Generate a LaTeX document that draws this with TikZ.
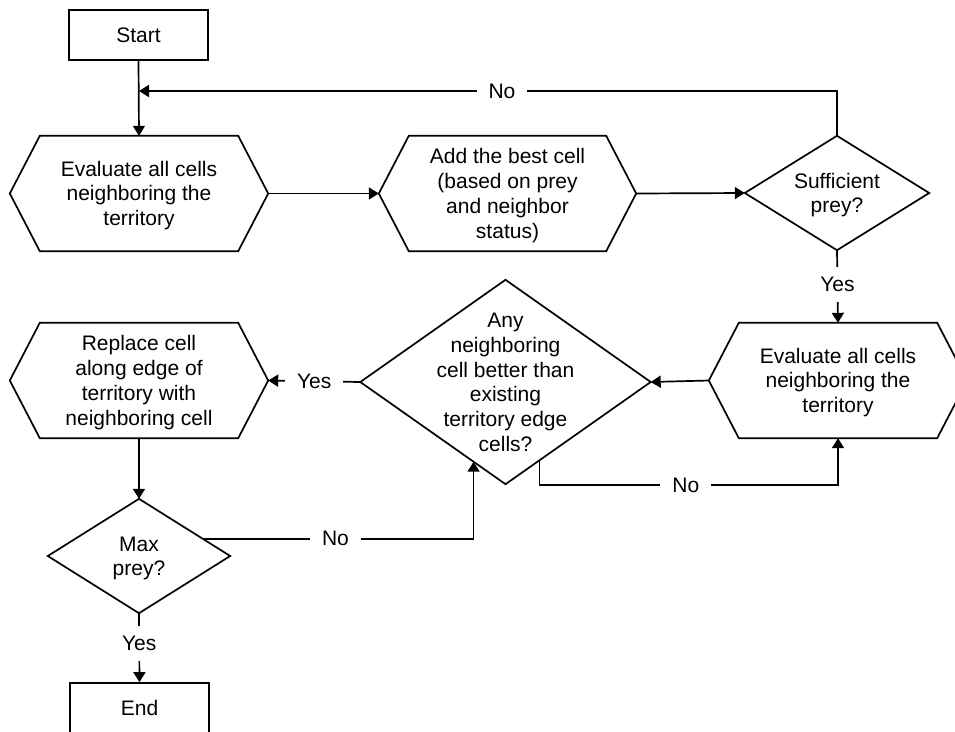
\documentclass[tikz,border=0pt]{standalone}
\usepackage{fontspec}
\setmainfont{Liberation Sans}
\usetikzlibrary{arrows.meta,calc}
\tikzset{
  line/.style={line width=1.7pt, draw=black},
  arr/.style={line, -{Triangle[length=10pt,width=12pt]}},
  txt/.style={font=\fontsize{21}{24.8}\selectfont, align=center, inner sep=0pt},
  boxnode/.style={txt, draw, line width=1.7pt, minimum width=139pt, minimum height=50pt},
  hexnode/.style={txt, minimum width=258pt, minimum height=115pt},
  dianode/.style={txt},
  lbl/.style={font=\fontsize{21}{24.8}\selectfont, fill=white, inner xsep=12pt, inner ysep=10pt},
}
\newcommand\ctext[1]{\raisebox{-2.5pt}[\height][\depth]{\begin{tabular}{@{}c@{}}#1\end{tabular}}}
\newcommand\hexoutline[1]{\draw[line, line join=miter] (#1.west) -- ([xshift=30pt]#1.north west) -- ([xshift=-30pt]#1.north east) -- (#1.east) -- ([xshift=-30pt]#1.south east) -- ([xshift=30pt]#1.south west) -- cycle;}
\newcommand\diaoutline[1]{\draw[line, line join=miter] (#1.north) -- (#1.east) -- (#1.south) -- (#1.west) -- cycle;}
\begin{document}
\begin{tikzpicture}[x=1pt,y=-1pt]
\useasboundingbox[fill=white] (0,0) rectangle (955,731);
% nodes
\node[boxnode] (start) at (138.5,35) {Start};
\node[hexnode] (h1) at (139,193.5) {\ctext{Evaluate all cells\\neighboring the\\territory}};
\node[hexnode, minimum width=257pt] (h2) at (507.5,193.5) {\ctext{Add the best cell\\(based on prey\\and neighbor\\status)}};
\node[dianode, minimum width=184pt, minimum height=114pt] (d1) at (837,193) {\ctext{Sufficient\\prey?}};
\node[hexnode] (h3) at (838,380.5) {\ctext{Evaluate all cells\\neighboring the\\territory}};
\node[dianode, minimum width=290pt, minimum height=204pt] (d2) at (505.5,382) {\ctext{Any\\neighboring\\cell better than\\existing\\territory edge\\cells?}};
\node[hexnode] (h4) at (139,380.5) {\ctext{Replace cell\\along edge of\\territory with\\neighboring cell}};
\node[dianode, minimum width=182pt, minimum height=114pt] (d3) at (139,556) {\ctext{Max\\prey?}};
\node[boxnode] (end) at (139.5,708) {End};
% outlines
\hexoutline{h1}
\hexoutline{h2}
\hexoutline{h3}
\hexoutline{h4}
\diaoutline{d1}
\diaoutline{d2}
\diaoutline{d3}
% helper coordinates
\coordinate (m1) at (139,91);
\coordinate (p1) at ($(d2.south)!0.234!(d2.east)$);
\coordinate (p2) at ($(d2.south)!0.22!(d2.west)$);
\coordinate (q1) at ($(d3.north)!0.7!(d3.east)$);
\coordinate (r1) at (0,485);
% connectors
\draw[arr] (start.south) -- (h1.north);
\draw[arr] (d1.north) |- node[lbl, pos=0.74] {No} (m1);
\draw[arr] (h1.east) -- (h2.west);
\draw[arr] (h2.east) -- (d1.west);
\draw[arr] (d1.south) -- node[lbl, pos=0.47] {Yes} (h3.north);
\draw[arr] (h3.west) -- (d2.east);
\draw[arr] (d2.west) -- node[lbl] {Yes} (h4.east);
\draw[arr] (h4.south) -- (d3.north);
\draw[arr] (d3.south) -- node[lbl, pos=0.44] {Yes} (end.north);
\draw[arr] (p1) -- (p1 |- r1) -- node[lbl, pos=0.49] {No} (h3.south |- r1) -- (h3.south);
\draw[arr] (q1) -- node[lbl, pos=0.49] {No} (q1 -| p2) -- (p2);
\end{tikzpicture}
\end{document}
